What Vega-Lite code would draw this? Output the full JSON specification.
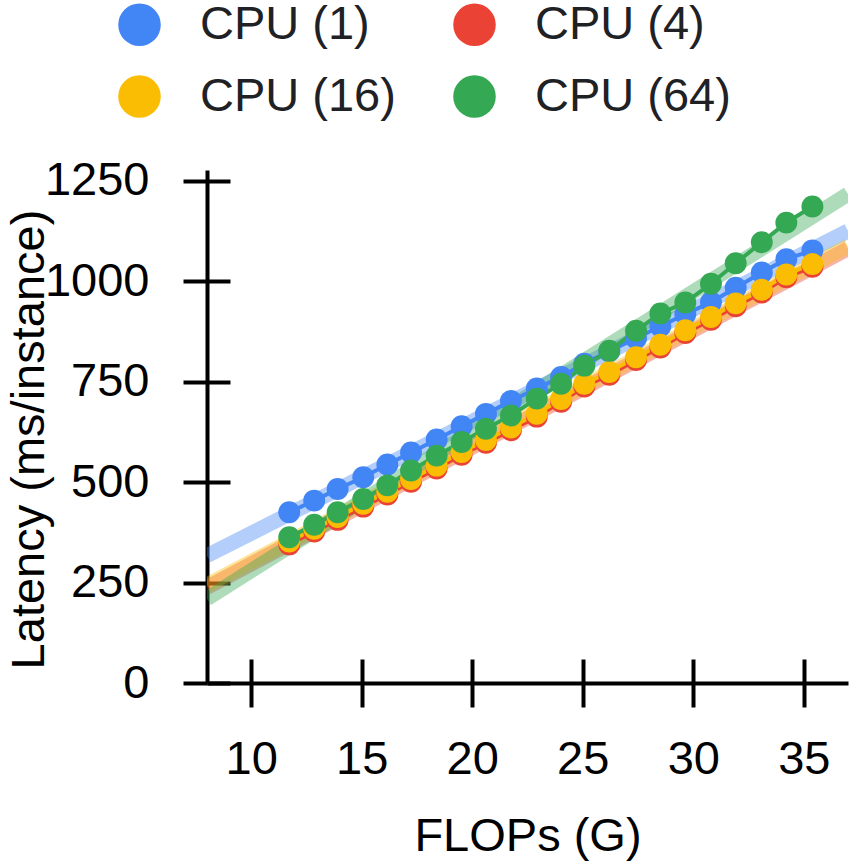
{
  "$schema": "https://vega.github.io/schema/vega-lite/v6.json",
  "width": 641,
  "height": 513,
  "autosize": {"type": "none"},
  "padding": {"left": 207, "top": 170, "right": 8, "bottom": 183},
  "background": "white",
  "config": {"view": {"stroke": null}, "font": "Liberation Sans", "axis": {"grid": false}},
  "datasets": {
    "fit": [
      {"series": "CPU (1)", "flops": 8, "latency": 317},
      {"series": "CPU (1)", "flops": 37, "latency": 1125},
      {"series": "CPU (4)", "flops": 8, "latency": 238},
      {"series": "CPU (4)", "flops": 37, "latency": 1081},
      {"series": "CPU (16)", "flops": 8, "latency": 244},
      {"series": "CPU (16)", "flops": 37, "latency": 1087},
      {"series": "CPU (64)", "flops": 8, "latency": 210},
      {"series": "CPU (64)", "flops": 37, "latency": 1217}
    ],
    "pts": [
      {"series": "CPU (1)", "flops": 11.72, "latency": 425},
      {"series": "CPU (1)", "flops": 12.85, "latency": 454},
      {"series": "CPU (1)", "flops": 13.91, "latency": 483},
      {"series": "CPU (1)", "flops": 15.07, "latency": 512},
      {"series": "CPU (1)", "flops": 16.16, "latency": 544},
      {"series": "CPU (1)", "flops": 17.23, "latency": 574},
      {"series": "CPU (1)", "flops": 18.39, "latency": 606},
      {"series": "CPU (1)", "flops": 19.52, "latency": 639},
      {"series": "CPU (1)", "flops": 20.62, "latency": 670},
      {"series": "CPU (1)", "flops": 21.75, "latency": 702},
      {"series": "CPU (1)", "flops": 22.92, "latency": 733},
      {"series": "CPU (1)", "flops": 24.02, "latency": 762},
      {"series": "CPU (1)", "flops": 25.07, "latency": 795},
      {"series": "CPU (1)", "flops": 26.2, "latency": 826},
      {"series": "CPU (1)", "flops": 27.41, "latency": 858},
      {"series": "CPU (1)", "flops": 28.51, "latency": 888},
      {"series": "CPU (1)", "flops": 29.64, "latency": 918},
      {"series": "CPU (1)", "flops": 30.8, "latency": 948},
      {"series": "CPU (1)", "flops": 31.92, "latency": 984},
      {"series": "CPU (1)", "flops": 33.1, "latency": 1022},
      {"series": "CPU (1)", "flops": 34.21, "latency": 1055},
      {"series": "CPU (1)", "flops": 35.39, "latency": 1077},
      {"series": "CPU (4)", "flops": 11.72, "latency": 345},
      {"series": "CPU (4)", "flops": 12.85, "latency": 377},
      {"series": "CPU (4)", "flops": 13.91, "latency": 406},
      {"series": "CPU (4)", "flops": 15.07, "latency": 439},
      {"series": "CPU (4)", "flops": 16.16, "latency": 469},
      {"series": "CPU (4)", "flops": 17.23, "latency": 501},
      {"series": "CPU (4)", "flops": 18.39, "latency": 534},
      {"series": "CPU (4)", "flops": 19.52, "latency": 568},
      {"series": "CPU (4)", "flops": 20.62, "latency": 598},
      {"series": "CPU (4)", "flops": 21.75, "latency": 629},
      {"series": "CPU (4)", "flops": 22.92, "latency": 663},
      {"series": "CPU (4)", "flops": 24.02, "latency": 700},
      {"series": "CPU (4)", "flops": 25.07, "latency": 738},
      {"series": "CPU (4)", "flops": 26.2, "latency": 767},
      {"series": "CPU (4)", "flops": 27.41, "latency": 804},
      {"series": "CPU (4)", "flops": 28.51, "latency": 835},
      {"series": "CPU (4)", "flops": 29.64, "latency": 871},
      {"series": "CPU (4)", "flops": 30.8, "latency": 904},
      {"series": "CPU (4)", "flops": 31.92, "latency": 938},
      {"series": "CPU (4)", "flops": 33.1, "latency": 972},
      {"series": "CPU (4)", "flops": 34.21, "latency": 1010},
      {"series": "CPU (4)", "flops": 35.39, "latency": 1036},
      {"series": "CPU (16)", "flops": 11.72, "latency": 352},
      {"series": "CPU (16)", "flops": 12.85, "latency": 384},
      {"series": "CPU (16)", "flops": 13.91, "latency": 413},
      {"series": "CPU (16)", "flops": 15.07, "latency": 446},
      {"series": "CPU (16)", "flops": 16.16, "latency": 476},
      {"series": "CPU (16)", "flops": 17.23, "latency": 508},
      {"series": "CPU (16)", "flops": 18.39, "latency": 541},
      {"series": "CPU (16)", "flops": 19.52, "latency": 575},
      {"series": "CPU (16)", "flops": 20.62, "latency": 605},
      {"series": "CPU (16)", "flops": 21.75, "latency": 636},
      {"series": "CPU (16)", "flops": 22.92, "latency": 670},
      {"series": "CPU (16)", "flops": 24.02, "latency": 707},
      {"series": "CPU (16)", "flops": 25.07, "latency": 745},
      {"series": "CPU (16)", "flops": 26.2, "latency": 774},
      {"series": "CPU (16)", "flops": 27.41, "latency": 811},
      {"series": "CPU (16)", "flops": 28.51, "latency": 842},
      {"series": "CPU (16)", "flops": 29.64, "latency": 878},
      {"series": "CPU (16)", "flops": 30.8, "latency": 911},
      {"series": "CPU (16)", "flops": 31.92, "latency": 945},
      {"series": "CPU (16)", "flops": 33.1, "latency": 979},
      {"series": "CPU (16)", "flops": 34.21, "latency": 1017},
      {"series": "CPU (16)", "flops": 35.39, "latency": 1043},
      {"series": "CPU (64)", "flops": 11.72, "latency": 363},
      {"series": "CPU (64)", "flops": 12.85, "latency": 394},
      {"series": "CPU (64)", "flops": 13.91, "latency": 425},
      {"series": "CPU (64)", "flops": 15.07, "latency": 458},
      {"series": "CPU (64)", "flops": 16.16, "latency": 492},
      {"series": "CPU (64)", "flops": 17.23, "latency": 529},
      {"series": "CPU (64)", "flops": 18.39, "latency": 566},
      {"series": "CPU (64)", "flops": 19.52, "latency": 600},
      {"series": "CPU (64)", "flops": 20.62, "latency": 633},
      {"series": "CPU (64)", "flops": 21.75, "latency": 666},
      {"series": "CPU (64)", "flops": 22.92, "latency": 708},
      {"series": "CPU (64)", "flops": 24.02, "latency": 745},
      {"series": "CPU (64)", "flops": 25.07, "latency": 790},
      {"series": "CPU (64)", "flops": 26.2, "latency": 827},
      {"series": "CPU (64)", "flops": 27.41, "latency": 877},
      {"series": "CPU (64)", "flops": 28.51, "latency": 920},
      {"series": "CPU (64)", "flops": 29.64, "latency": 947},
      {"series": "CPU (64)", "flops": 30.8, "latency": 994},
      {"series": "CPU (64)", "flops": 31.92, "latency": 1045},
      {"series": "CPU (64)", "flops": 33.1, "latency": 1097},
      {"series": "CPU (64)", "flops": 34.21, "latency": 1146},
      {"series": "CPU (64)", "flops": 35.39, "latency": 1186}
    ]
  },
  "layer": [
    {
      "data": {"name": "fit"},
      "mark": {"type": "line", "strokeWidth": 15, "opacity": 0.4, "clip": true, "strokeCap": "butt"},
      "encoding": {
        "x": {
          "field": "flops", "type": "quantitative",
          "scale": {"domain": [8, 37], "nice": false, "zero": false},
          "axis": {
            "orient": "bottom", "values": [10, 15, 20, 25, 30, 35], "title": "FLOPs (G)",
            "domainColor": "black", "domainWidth": 4, "tickColor": "black", "tickWidth": 4, "tickSize": 24,
            "labelFontSize": 47, "labelColor": "black", "labelPadding": 29, "labelFont": "Liberation Sans",
            "labelFlush": false, "labelOverlap": false,
            "titleFontSize": 47, "titleFontWeight": "normal", "titleColor": "black", "titleFont": "Liberation Sans",
            "titleBaseline": "alphabetic", "titleY": 167
          }
        },
        "y": {
          "field": "latency", "type": "quantitative",
          "scale": {"domain": [0, 1277], "nice": false},
          "axis": {
            "orient": "left", "values": [0, 250, 500, 750, 1000, 1250], "format": "d", "title": "Latency (ms/instance)",
            "domainColor": "black", "domainWidth": 4, "tickColor": "black", "tickWidth": 4, "tickSize": 24,
            "labelFontSize": 47, "labelColor": "black", "labelPadding": 34, "labelFont": "Liberation Sans",
            "labelFlush": false, "labelOverlap": false,
            "titleFontSize": 47, "titleFontWeight": "normal", "titleColor": "black", "titleFont": "Liberation Sans",
            "titleBaseline": "alphabetic", "titleAngle": -90, "titleAlign": "center", "titleX": -164, "titleY": 269
          }
        },
        "stroke": {
          "field": "series", "type": "nominal",
          "scale": {"domain": ["CPU (1)", "CPU (4)", "CPU (16)", "CPU (64)"], "range": ["#4285F4", "#EA4335", "#FBBC04", "#34A853"]},
          "legend": null
        }
      }
    },
    {
      "data": {"name": "pts"},
      "mark": {"type": "line", "strokeWidth": 4},
      "encoding": {
        "x": {
          "field": "flops", "type": "quantitative",
          "axis": {"orient": "bottom", "values": [10, 15, 20, 25, 30, 35], "domain": false, "labels": false, "title": null, "tickSize": -24, "tickWidth": 4, "tickColor": "black"}
        },
        "y": {
          "field": "latency", "type": "quantitative",
          "axis": {"orient": "left", "values": [0, 250, 500, 750, 1000, 1250], "domain": false, "labels": false, "title": null, "tickSize": -23, "tickWidth": 4, "tickColor": "black"}
        },
        "stroke": {
          "field": "series", "type": "nominal",
          "scale": {"domain": ["CPU (1)", "CPU (4)", "CPU (16)", "CPU (64)"], "range": ["#4285F4", "#EA4335", "#FBBC04", "#34A853"]},
          "legend": null
        }
      }
    },
    {
      "data": {"name": "pts"},
      "mark": {"type": "point", "filled": true, "opacity": 1, "size": 480, "shape": "circle", "strokeWidth": 0},
      "encoding": {
        "x": {"field": "flops", "type": "quantitative", "axis": null},
        "y": {"field": "latency", "type": "quantitative", "axis": null},
        "fill": {
          "field": "series", "type": "nominal",
          "scale": {"domain": ["CPU (1)", "CPU (4)", "CPU (16)", "CPU (64)"], "range": ["#4285F4", "#EA4335", "#FBBC04", "#34A853"]},
          "legend": {
            "orient": "none", "legendX": -91, "legendY": -169, "columns": 2, "direction": "horizontal", "title": null,
            "symbolType": "circle", "symbolSize": 1810, "symbolStrokeWidth": 0, "symbolOpacity": 1,
            "labelFontSize": 47, "labelFont": "Liberation Sans", "labelColor": "#202124", "labelOffset": 37, "labelLimit": 400,
            "rowPadding": 24, "columnPadding": 55, "padding": 0
          }
        }
      }
    }
  ],
  "resolve": {"axis": {"x": "independent", "y": "independent"}, "legend": {"fill": "independent", "stroke": "independent"}}
}
